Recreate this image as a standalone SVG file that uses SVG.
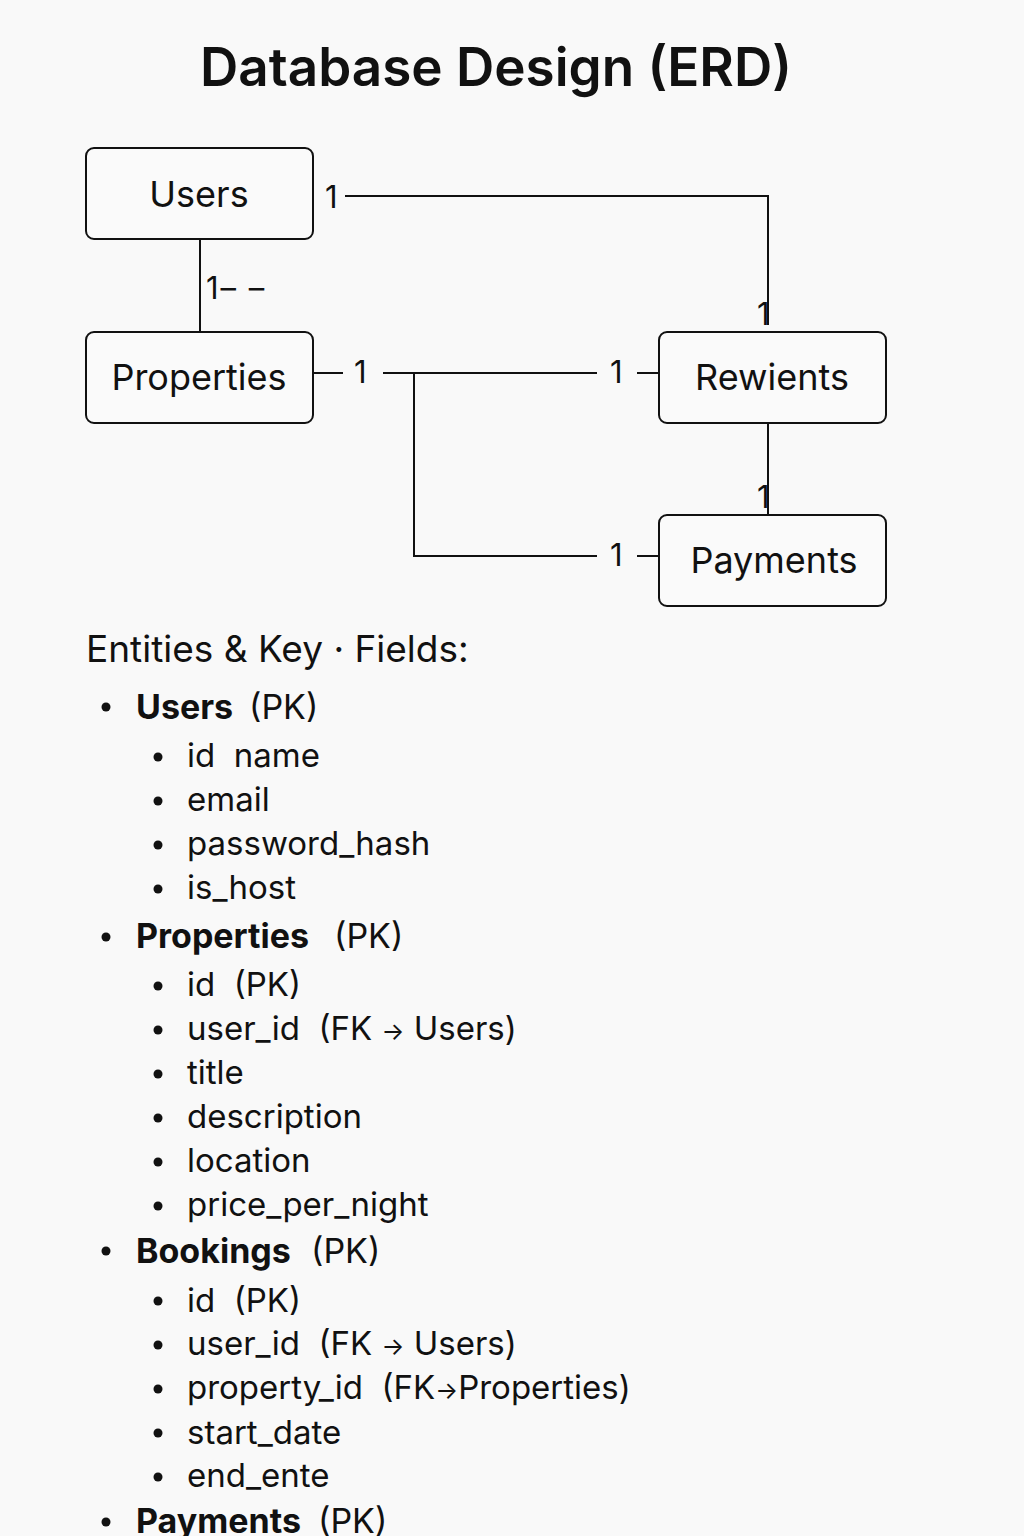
<svg xmlns="http://www.w3.org/2000/svg" width="1024" height="1536" viewBox="0 0 1024 1536">
<style>
text{font-family:Inter,"Noto Sans","Liberation Sans",sans-serif;fill:#111}
.title{font-size:53px;font-weight:600}
.node rect{fill:#fafafa;stroke:#111;stroke-width:2}
.node text{font-size:36px;text-anchor:middle}
.conn path,.conn line{stroke:#111;stroke-width:2;fill:none}
.lbl{font-size:31px}
.h{font-size:37px}
.l1{font-size:34px}
.l2{font-size:33px}
.b{font-weight:700}
.ar{font-size:24px}
.dot{fill:#111}
</style>
<rect width="1024" height="1536" fill="#f9f9f9"/>
<text class="title" x="496" y="86" text-anchor="middle">Database Design (ERD)</text>

<g id="connectors" class="conn">
<line x1="200" y1="239" x2="200" y2="332"/>
<path d="M345 196 H768 V325"/>
<line x1="313" y1="373" x2="343" y2="373"/>
<line x1="383" y1="373" x2="597" y2="373"/>
<line x1="637" y1="373" x2="659" y2="373"/>
<path d="M414 373 V556 H597"/>
<line x1="637" y1="556" x2="659" y2="556"/>
<line x1="768" y1="423" x2="768" y2="515"/>
<text class="lbl" x="206" y="299" letter-spacing="2">1– –</text>
<text class="lbl" x="325" y="208">1</text>
<text class="lbl" x="757" y="325">1</text>
<text class="lbl" x="354" y="383">1</text>
<text class="lbl" x="610" y="383">1</text>
<text class="lbl" x="610" y="566">1</text>
<text class="lbl" x="757" y="508">1</text>
</g>

<g id="node-users" class="node"><rect x="86" y="148" width="227" height="91" rx="8"/><text x="199" y="207">Users</text></g>
<g id="node-properties" class="node"><rect x="86" y="332" width="227" height="91" rx="8"/><text x="199" y="390">Properties</text></g>
<g id="node-rewients" class="node"><rect x="659" y="332" width="227" height="91" rx="8"/><text x="772" y="390">Rewients</text></g>
<g id="node-payments" class="node"><rect x="659" y="515" width="227" height="91" rx="8"/><text x="774" y="573">Payments</text></g>

<g id="legend">
<text class="h" x="86" y="662">Entities &amp; Key · Fields:</text>
<g class="l1">
<circle class="dot" cx="106" cy="707" r="4.5"/><text x="136" y="719"><tspan class="b">Users</tspan><tspan x="249">(PK)</tspan></text>
<circle class="dot" cx="106" cy="937" r="4.5"/><text x="136" y="948"><tspan class="b">Properties</tspan><tspan x="334">(PK)</tspan></text>
<circle class="dot" cx="106" cy="1251" r="4.5"/><text x="136" y="1263"><tspan class="b">Bookings</tspan><tspan x="311">(PK)</tspan></text>
<circle class="dot" cx="106" cy="1522" r="4.5"/><text x="136" y="1533"><tspan class="b">Payments</tspan><tspan x="318">(PK)</tspan></text>
</g>
<g class="l2">
<circle class="dot" cx="158" cy="757" r="4.5"/><text x="187" y="767" xml:space="preserve">id  name</text>
<circle class="dot" cx="158" cy="801" r="4.5"/><text x="187" y="811">email</text>
<circle class="dot" cx="158" cy="845" r="4.5"/><text x="187" y="855">password_hash</text>
<circle class="dot" cx="158" cy="889" r="4.5"/><text x="187" y="899">is_host</text>
<circle class="dot" cx="158" cy="986" r="4.5"/><text x="187" y="996" xml:space="preserve">id  (PK)</text>
<circle class="dot" cx="158" cy="1030" r="4.5"/><text x="187" y="1040" xml:space="preserve">user_id  (FK <tspan class="ar">→</tspan> Users)</text>
<circle class="dot" cx="158" cy="1074" r="4.5"/><text x="187" y="1084">title</text>
<circle class="dot" cx="158" cy="1118" r="4.5"/><text x="187" y="1128">description</text>
<circle class="dot" cx="158" cy="1162" r="4.5"/><text x="187" y="1172">location</text>
<circle class="dot" cx="158" cy="1206" r="4.5"/><text x="187" y="1216">price_per_night</text>
<circle class="dot" cx="158" cy="1301" r="4.5"/><text x="187" y="1312" xml:space="preserve">id  (PK)</text>
<circle class="dot" cx="158" cy="1345" r="4.5"/><text x="187" y="1355" xml:space="preserve">user_id  (FK <tspan class="ar">→</tspan> Users)</text>
<circle class="dot" cx="158" cy="1389" r="4.5"/><text x="187" y="1399" xml:space="preserve">property_id  (FK<tspan class="ar">→</tspan>Properties)</text>
<circle class="dot" cx="158" cy="1433" r="4.5"/><text x="187" y="1444">start_date</text>
<circle class="dot" cx="158" cy="1477" r="4.5"/><text x="187" y="1487">end_ente</text>
</g>
</g>
</svg>
